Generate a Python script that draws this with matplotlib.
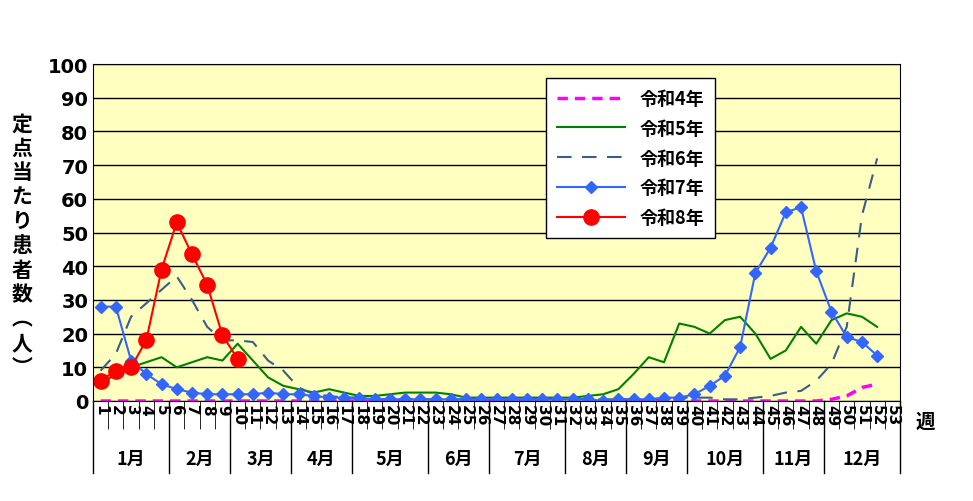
import numpy as np
import matplotlib.pyplot as plt
from matplotlib.transforms import blended_transform_factory

plt.rcParams['font.family'] = ['Noto Sans CJK JP', 'DejaVu Sans']

weeks = np.arange(1, 54)

r4 = [0] * 48 + [0.5, 1.5, 4, 5]
r5 = [5, 8, 10, 11.5, 13, 10, 11.5, 13, 12, 17, 12, 7, 4.5, 3.5, 2.5, 3.5, 2.5, 1.5,
      1.5, 2, 2.5, 2.5, 2.5, 2, 1, 1, 1, 1, 1, 1, 1, 1, 1.5, 2, 3.5, 8, 13, 11.5, 23,
      22, 20, 24, 25, 20, 12.5, 15, 22, 17, 24, 26, 25, 22]
r6 = [9, 14, 25, 29, 33, 37, 30, 22, 18, 18, 17.5, 12, 9, 4, 2, 1.5, 1, 1, 0.5, 0.5,
      0.5, 0.5, 0.5, 0.5, 0.5, 0.5, 0.5, 0.5, 0.5, 0.5, 0.5, 0.5, 0.5, 0.5, 0.5, 0.5,
      0.5, 0.5, 1, 1, 1, 0.5, 0.5, 1, 1.5, 2.5, 3, 6, 11, 22, 55, 72]
r7 = [28, 28, 12, 8, 5, 3.5, 2.5, 2, 2, 2, 2, 2.5, 2, 2, 1.5, 1, 1, 1, 0.5, 0.5,
      0.5, 0.5, 0.5, 0.5, 0.5, 0.5, 0.5, 0.5, 0.5, 0.5, 0.5, 0.5, 0.5, 0, 0.5, 0.5,
      0.5, 1, 1, 2, 4.5, 7.5, 16, 38, 45.5, 56, 57.5, 38.5, 26.5, 19, 17.5, 13.5]
r8 = [6, 9, 10, 18, 39, 53, 43.5, 34.5, 19.5, 12.5]

months = ['1月', '2月', '3月', '4月', '5月', '6月', '7月', '8月', '9月', '10月', '11月', '12月']
month_ends = [5, 9, 13, 17, 22, 26, 31, 35, 39, 44, 48, 53]

fig = plt.figure(figsize=(9.73, 5.02), dpi=100)
ax = fig.add_axes([93 / 973, 100 / 502, 807 / 973, 337 / 502])
ax.set_facecolor('#FFFFC0')

ax.plot(weeks[:52], r4, color='#FF00FF', lw=2.5, ls=(0, (3, 2)), label='令和4年')
ax.plot(weeks[:52], r5, color='#008000', lw=1.5, label='令和5年')
ax.plot(weeks[:52], r6, color='#385D8A', lw=1.5, ls=(0, (7, 5)), label='令和6年')
ax.plot(weeks[:52], r7, color='#3366FF', lw=1.5, marker='D', ms=6, label='令和7年')
ax.plot(weeks[:10], r8, color='#FF0000', lw=1.5, marker='o', ms=11, label='令和8年')

ax.set_xlim(0.5, 53.5)
ax.set_ylim(0, 100)
ax.set_yticks(range(0, 101, 10))
ax.yaxis.grid(True, color='black', lw=1)
ax.set_axisbelow(True)
ax.tick_params(axis='y', labelsize=14, length=0)
for lab in ax.get_yticklabels():
    lab.set_fontweight('bold')
    lab.set_family('DejaVu Sans')

ax.set_xticks(weeks)
ax.set_xticklabels([str(w) for w in weeks], rotation=270, fontsize=11,
                   fontweight='bold', family='DejaVu Sans')
ax.set_xticks(np.arange(0.5, 54), minor=True)
ax.tick_params(axis='x', which='major', length=0, pad=2)
ax.tick_params(axis='x', which='minor', length=20, color='black')
for s in ax.spines.values():
    s.set_color('black')

tr = blended_transform_factory(ax.transData, ax.transAxes)
start = 0.5
for m, end in zip(months, month_ends):
    ax.plot([start, start], [0, -0.215], transform=tr, color='black', lw=1, clip_on=False)
    ax.text((start + end + 0.5) / 2, -0.17, m, transform=tr, ha='center', va='center',
            fontsize=13, fontweight='bold')
    start = end + 0.5
ax.plot([53.5, 53.5], [0, -0.215], transform=tr, color='black', lw=1, clip_on=False)

ax.text(54.5, -0.06, '週', transform=tr, ha='left', va='center', fontsize=14, fontweight='bold')
fig.text(22 / 973, 0.51, '定\n点\n当\nた\nり\n患\n者\n数\n︵\n人\n︶', ha='center', va='center',
         fontsize=15, fontweight='bold', linespacing=1.2)

leg = ax.legend(loc='upper left', bbox_to_anchor=(0.55, 0.985), fontsize=13,
                frameon=True, fancybox=False, edgecolor='black', handlelength=3.8,
                labelspacing=0.6, borderpad=0.6)
leg.get_frame().set_facecolor('white')
leg.get_frame().set_alpha(1)
for t in leg.get_texts():
    t.set_fontweight('bold')

fig.savefig('out.png', dpi=100)
